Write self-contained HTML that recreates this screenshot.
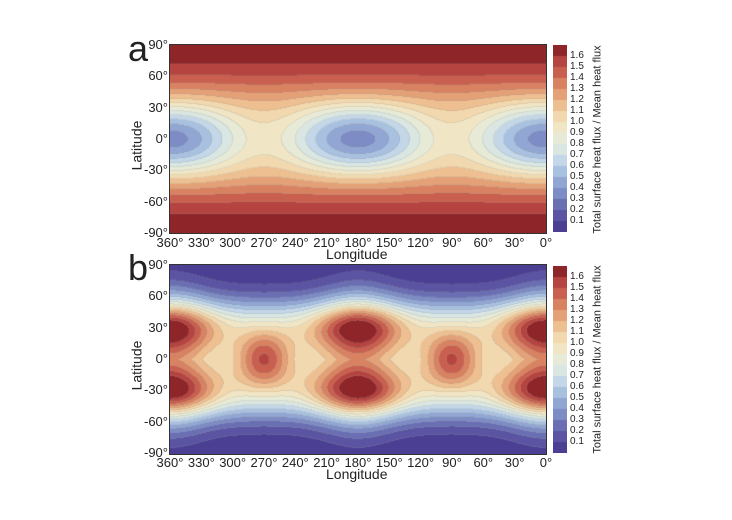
<!DOCTYPE html><html><head><style>
body{margin:0;background:#fff;width:732px;height:520px;overflow:hidden;position:relative;font-family:"Liberation Sans",sans-serif;color:#222}
canvas{position:absolute}
.t{position:absolute;font-size:13px;line-height:13px;white-space:nowrap}
.c{position:absolute;font-size:10px;line-height:10px}
.box{position:absolute;border:1px solid #333;box-sizing:border-box}
</style></head><body>
<canvas id="a" width="376" height="188" style="left:170px;top:45px"></canvas>
<canvas id="b" width="376" height="189" style="left:170px;top:265px"></canvas>
<div class="box" style="left:169px;top:44px;width:378px;height:190px"></div>
<div class="box" style="left:169px;top:264px;width:378px;height:191px"></div>
<canvas id="ca" width="14" height="187" style="left:553px;top:45px"></canvas>
<canvas id="cb" width="14" height="187" style="left:553px;top:266px"></canvas>
<div id="txt"></div>
<script>
const C=["#4b3f93","#5a54a3","#6a6fb3","#7d8cc4","#91a6d3","#a9c1e0","#c3d7e8","#d9e6e2","#e6ead6","#f0e6c6","#f2d8ae","#eebf90","#e4a177","#d88262","#c9604f","#b54440","#8e2529"];
const RGB=C.map(h=>[1,3,5].map(i=>parseInt(h.substr(i,2),16)));
const D=Math.PI/180;
function fa(lon,lat){const c=Math.cos(lon*D),cl=Math.cos(lat*D),s=Math.sin(lat*D);
 return 0.95-0.6*c*c*Math.pow(cl,6)+0.72*s*s;}
function fb(lon,lat){
 let d0=((lon%180)+180)%180;d0=Math.min(d0,180-d0);
 let d9=Math.abs(d0-90);
 const b1=0.75*Math.exp(-Math.pow(d0/44,2)-Math.pow((Math.abs(lat)-33)/23,2));
 const b2=0.6*Math.exp(-Math.pow(d9/25,2)-Math.pow(lat/28,2));
 const b3=0.3*Math.exp(-Math.pow(d0/32,2)-Math.pow(lat/40,2));
 const S2=Math.exp(-Math.pow(Math.abs(lat)/(56+10*Math.exp(-Math.pow(d0/40,2))),4));
 return 0.04+(0.88+b1+b2+b3)*S2;}
function draw(id,f){const cv=document.getElementById(id),W=cv.width,H=cv.height,x=cv.getContext('2d'),im=x.createImageData(W,H);
 const L=[];for(let j=0;j<H;j++){L.push([]);for(let i=0;i<W;i++){const lon=360-i/(W-1)*360,lat=90-j/(H-1)*180;
 L[j].push(Math.max(0,Math.min(16,Math.floor(f(lon,lat)*10))));}}
 for(let j=0;j<H;j++)for(let i=0;i<W;i++){const k=L[j][i];let c=RGB[k].slice();
 if((i+1<W&&L[j][i+1]!=k)||(j+1<H&&L[j+1][i]!=k)){c=c.map(v=>v*0.8+30);}
 const p=(j*W+i)*4;im.data[p]=c[0];im.data[p+1]=c[1];im.data[p+2]=c[2];im.data[p+3]=255;}
 x.putImageData(im,0,0);}
draw('a',fa);draw('b',fb);
['ca','cb'].forEach(id=>{const x=document.getElementById(id).getContext('2d');
 for(let k=0;k<17;k++){x.fillStyle=C[k];x.fillRect(0,187-(k+1)*11,14,11);}});
let h='';
[[45,'a',128,31],[265,'b',128,250]].forEach(([top,l,lx,ly])=>{
 h+=`<div class="t" style="left:${lx}px;top:${ly}px;font-size:36px;line-height:36px">${l}</div>`;
 ['90°','60°','30°','0°','-30°','-60°','-90°'].forEach((s,i)=>{h+=`<div class="t" style="right:${732-168}px;top:${top+i*31.3-7}px">${s}</div>`;});
 ['360°','330°','300°','270°','240°','210°','180°','150°','120°','90°','60°','30°','0°'].forEach((s,i)=>{h+=`<div class="t" style="left:${170+i*31.33-15}px;top:${top+191}px;width:30px;text-align:center">${s}</div>`;});
 h+=`<div class="t" style="left:326px;top:${top+203}px;font-size:14px">Longitude</div>`;
 h+=`<div class="t" style="left:116px;top:${top+94}px;transform:rotate(-90deg);transform-origin:center;width:60px;text-align:center;margin-left:-9px;font-size:14px">Latitude</div>`;
 for(let i=1;i<=16;i++)h+=`<div class="c" style="left:570px;top:${top+187-i*11-5+(l=='b'?1:0)}px">${(i/10).toFixed(1)}</div>`;
 h+=`<div class="t" style="left:${598-110}px;top:${top+88}px;width:220px;text-align:center;font-size:11px;transform:rotate(-90deg)">Total surface heat flux / Mean heat flux</div>`;
});
document.getElementById('txt').innerHTML=h;
</script></body></html>
